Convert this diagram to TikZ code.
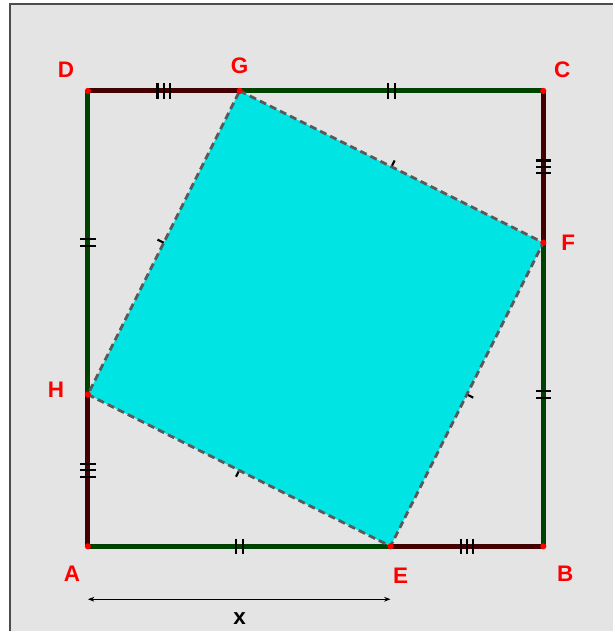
\documentclass[tikz,border=0pt]{standalone}
\usepackage{fontspec}
\setsansfont{Liberation Sans}
\usetikzlibrary{arrows.meta,decorations.markings}
\definecolor{sqgreen}{RGB}{0,66,0}
\definecolor{sqred}{RGB}{66,0,0}
\definecolor{bggray}{RGB}{228,228,228}
\definecolor{tilecyan}{RGB}{0,228,228}

\begin{document}
\begin{tikzpicture}[x=0.025cm,y=-0.025cm,>={Stealth[length=1.6mm]},
  every node/.style={font=\sffamily\bfseries\fontsize{16}{16}\selectfont,text=red},
  side/.style={line width=0.12cm},
  tickone/.style={postaction={decorate},decoration={markings,mark=at position 0.5 with {\draw[black,line width=1.5pt] (0,-5pt) -- (0,5pt);}}},
  ticktwo/.style={postaction={decorate},decoration={markings,mark=at position 0.5 with {\draw[black,line width=1.5pt] (-2.5pt,-5.5pt) -- (-2.5pt,5.5pt) (2.5pt,-5.5pt) -- (2.5pt,5.5pt);}}},
  tickthree/.style={postaction={decorate},decoration={markings,mark=at position 0.5 with {\draw[black,line width=1.5pt] (-4.5pt,-5.5pt) -- (-4.5pt,5.5pt) (0pt,-5.5pt) -- (0pt,5.5pt) (4.5pt,-5.5pt) -- (4.5pt,5.5pt);}}}]
% frame
\fill[white] (0,0) rectangle (614,632);
\fill[bggray] (10,4) rectangle (614,632);
\draw[black!70,line width=0.04cm] (10,632) -- (10,4) -- (614,4);
\useasboundingbox (0,0) rectangle (614,632);
% points
\coordinate (A) at (88,547);
\coordinate (B) at (544,547);
\coordinate (C) at (544,91);
\coordinate (D) at (88,91);
\coordinate (E) at (391,547);
\coordinate (F) at (544,243);
\coordinate (G) at (240,91);
\coordinate (H) at (88,395);
% outer square
\draw[side,sqred,tickthree] (D) -- (G);
\draw[side,sqgreen,ticktwo] (G) -- (C);
\draw[side,sqred,tickthree] (C) -- (F);
\draw[side,sqgreen,ticktwo] (F) -- (B);
\draw[side,sqred,tickthree] (B) -- (E);
\draw[side,sqgreen,ticktwo] (E) -- (A);
\draw[side,sqred,tickthree] (A) -- (H);
\draw[side,sqgreen,ticktwo] (H) -- (D);
% inner square
\path[tickone] (G) -- (F);
\path[tickone] (F) -- (E);
\path[tickone] (E) -- (H);
\path[tickone] (H) -- (G);
\fill[tilecyan] (G) -- (F) -- (E) -- (H) -- cycle;
\draw[black!65,line width=2pt,dash pattern=on 5pt off 3pt] (G) -- (F) -- (E) -- (H) -- cycle;
\foreach \p in {A,B,C,D,E,F,G,H} \fill[red] (\p) circle (2.2pt);
% labels
\node (lA) at (72,574) {A};
\node (lB) at (566,574) {B};
\node (lC) at (563,70) {C};
\node (lD) at (66,70) {D};
\node (lE) at (401,576) {E};
\node (lF) at (569,243) {F};
\node (lG) at (240,66) {G};
\node (lH) at (56,390) {H};
% length x
\coordinate (xl) at (88,600);
\coordinate (xr) at (391,600);
\draw[<->,line width=1pt] (xl) -- (xr);
\node[text=black] (lx) at (240,619) {x};
\end{tikzpicture}
\end{document}
